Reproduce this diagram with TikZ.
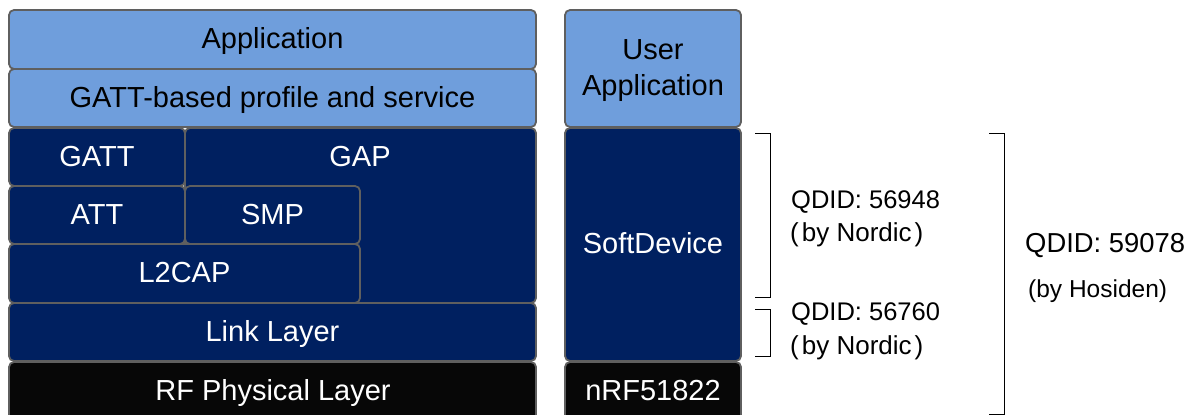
\documentclass[tikz,border=0pt]{standalone}
\usepackage{fontspec}
\setmainfont{Liberation Sans}
\definecolor{lightb}{HTML}{6F9EDC}
\definecolor{navy}{HTML}{002060}
\definecolor{nearblack}{HTML}{070707}
\definecolor{edge}{HTML}{5F5F5F}
\newcommand{\layerbox}[7]{%
  \pgfmathsetmacro{\boxcx}{(#3+#5)/2}\pgfmathsetmacro{\boxcy}{(#4+#6)/2}%
  \pgfmathsetmacro{\boxw}{#5-#3}\pgfmathsetmacro{\boxh}{#6-#4}%
  \node[#2,minimum width=\boxw pt,minimum height=\boxh pt] (#1) at (\boxcx,\boxcy) {\raisebox{0pt}[\dimexpr\height+4pt\relax][\depth]{\begin{tabular}{@{}c@{}}#7\end{tabular}}};}
\tikzset{
  base/.style={draw=edge,line width=1.8pt,rounded corners=5pt,inner sep=0pt,font=\fontsize{29}{35}\selectfont},
  lightbox/.style={base,fill=lightb,text=black},
  navybox/.style={base,fill=navy,text=white},
  blackbox/.style={base,fill=nearblack,text=white},
  boxlabel/.style={text=white,font=\fontsize{29}{35}\selectfont,inner sep=0pt},
  bracket/.style={draw=black,line width=1pt},
  qdid/.style={font=\fontsize{25.5}{30}\selectfont,text=black,inner sep=0pt},
  byline/.style={font=\fontsize{26}{30}\selectfont,text=black,inner sep=0pt}
}
\begin{document}
\begin{tikzpicture}[x=1pt,y=-1pt]
\useasboundingbox (0,0) rectangle (1192,415);
\begin{scope}
\clip (0,0) rectangle (1192,415);
\layerbox{app}{lightbox}{9}{10}{536}{69}{Application}
\layerbox{gattp}{lightbox}{9}{69}{536}{127}{GATT-based profile and service}
\layerbox{gap}{navybox}{185}{128}{536}{303}{}
\node[boxlabel] (gaplabel) at (360,156.5) {GAP};
\layerbox{gatt}{navybox}{9}{128}{185}{186}{GATT}
\layerbox{att}{navybox}{9}{186}{185}{244}{ATT}
\layerbox{smp}{navybox}{185}{186}{360}{244}{SMP}
\layerbox{l2cap}{navybox}{9}{244}{360}{303}{L2CAP}
\layerbox{link}{navybox}{9}{303}{536}{361}{Link Layer}
\layerbox{rf}{blackbox}{9}{362}{536}{420}{}
\node[boxlabel] (rflabel) at (273,393) {RF Physical Layer};
\layerbox{user}{lightbox}{565}{10}{741}{127}{User\\Application}
\layerbox{soft}{navybox}{565}{128}{741}{361}{SoftDevice}
\layerbox{nrf}{blackbox}{565}{362}{741}{420}{}
\node[boxlabel] (nrflabel) at (653,391) {nRF51822};
\end{scope}
\coordinate (b1a) at (755,133); \coordinate (b1b) at (770,133);
\coordinate (b1c) at (770,297); \coordinate (b1d) at (755,297);
\coordinate (b2a) at (755,309); \coordinate (b2b) at (770,309);
\coordinate (b2c) at (770,356); \coordinate (b2d) at (755,356);
\coordinate (b3a) at (989,133); \coordinate (b3b) at (1004,133);
\coordinate (b3c) at (1004,414); \coordinate (b3d) at (989,414);
\draw[bracket] (b1a) -- (b1b) -- (b1c) -- (b1d);
\draw[bracket] (b2a) -- (b2b) -- (b2c) -- (b2d);
\draw[bracket] (b3a) -- (b3b) -- (b3c) -- (b3d);
\node[qdid,anchor=west] (q1) at (791,202) {QDID: 56948};
\node[byline,anchor=west] (n1) at (790,235) {(\hspace{3pt}by Nordic\hspace{3pt})};
\node[qdid,anchor=west] (q2) at (791,314) {QDID: 56760};
\node[byline,anchor=west] (n2) at (790,348) {(\hspace{3pt}by Nordic\hspace{3pt})};
\node[qdid,anchor=west,font=\fontsize{27.4}{32}\selectfont] (q3) at (1025,246) {QDID: 59078};
\node[byline,anchor=west,font=\fontsize{24.5}{28}\selectfont] (n3) at (1028,291) {(by Hosiden)};
\end{tikzpicture}
\end{document}
